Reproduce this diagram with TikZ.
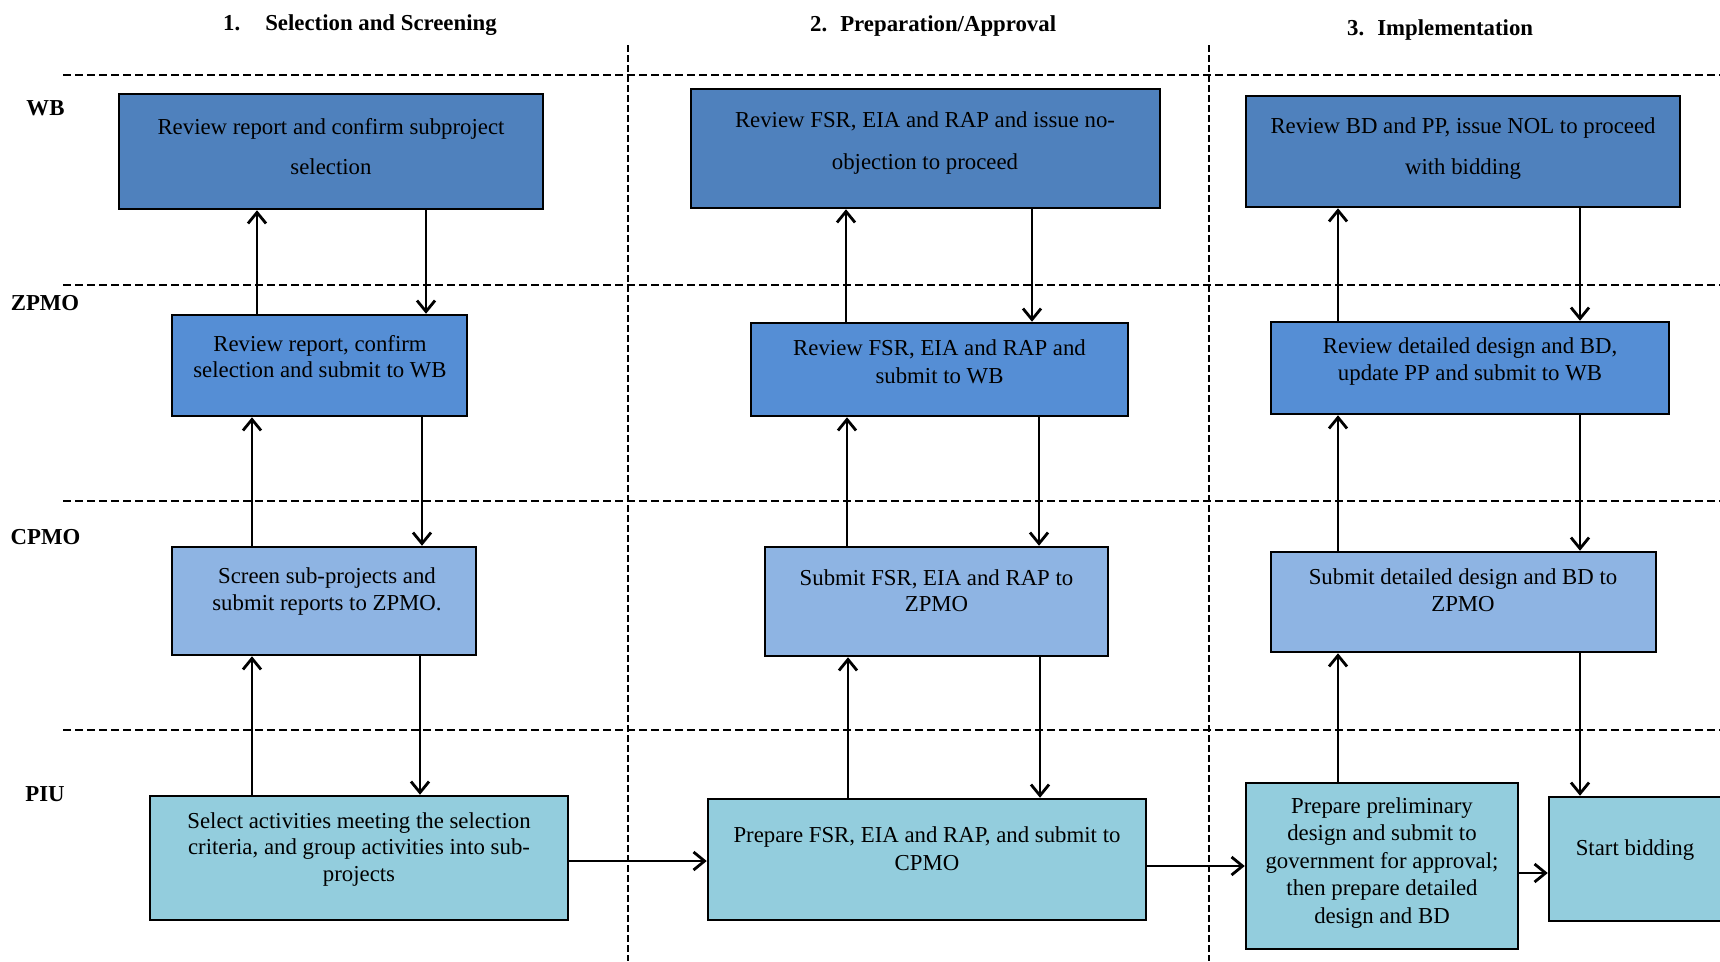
\documentclass[tikz,border=0pt]{standalone}
\usepackage{fontspec}
\setmainfont{Liberation Serif}
\usetikzlibrary{arrows.meta,fit}
\definecolor{wbc}{HTML}{4F81BD}
\definecolor{zpc}{HTML}{558ED5}
\definecolor{cpc}{HTML}{8EB4E3}
\definecolor{piuc}{HTML}{93CDDD}
\begin{document}
\begin{tikzpicture}[x=1pt,y=-1pt,
  box/.style={draw=black, line width=2.5pt, inner sep=0pt},
  wbbox/.style={box, fill=wbc},
  zpbox/.style={box, fill=zpc},
  cpbox/.style={box, fill=cpc},
  piubox/.style={box, fill=piuc},
  txt/.style={align=center, font=\fontsize{22.8}{#1}\selectfont, inner sep=0pt},
  txt/.default=27,
  lbl/.style={font=\bfseries\fontsize{22.8}{27}\selectfont, inner sep=0pt},
  arr/.style={line width=2.8pt, -{Straight Barb[length=11pt,width=18pt]}},
  lane/.style={line width=2pt, dash pattern=on 8pt off 4pt},
  vlane/.style={line width=2pt, dash pattern=on 7pt off 3pt},
]
\useasboundingbox (0,0) rectangle (1720,961);

% lanes
\coordinate (hl1a) at (63,75);   \coordinate (hl1b) at (1720,75);
\coordinate (hl2a) at (63,285);  \coordinate (hl2b) at (1720,285);
\coordinate (hl3a) at (63,501);  \coordinate (hl3b) at (1720,501);
\coordinate (hl4a) at (63,730);  \coordinate (hl4b) at (1720,730);
\coordinate (vl1a) at (628,45);  \coordinate (vl1b) at (628,961);
\coordinate (vl2a) at (1209,45); \coordinate (vl2b) at (1209,961);
\draw[lane] (hl1a) -- (hl1b);
\draw[lane] (hl2a) -- (hl2b);
\draw[lane] (hl3a) -- (hl3b);
\draw[lane] (hl4a) -- (hl4b);
\draw[vlane] (vl1a) -- (vl1b);
\draw[vlane] (vl2a) -- (vl2b);

% titles
\node[lbl, anchor=west] (t1) at (223,25) {1.\hspace{25pt}Selection and Screening};
\node[lbl, anchor=west] (t2) at (810,26) {2.\hspace{13pt}Preparation/Approval};
\node[lbl, anchor=west] (t3) at (1347,30) {3.\hspace{13pt}Implementation};

% row labels
\node[lbl] (lwb) at (45.5,108) {WB};
\node[lbl] (lzp) at (45,303) {ZPMO};
\node[lbl] (lcp) at (45.5,537) {CPMO};
\node[lbl] (lpiu) at (45,794) {PIU};

% boxes
\node[wbbox, fit={(119,94) (543,209)}] (wb1) {};
\node[wbbox, fit={(691,89) (1160,208)}] (wb2) {};
\node[wbbox, fit={(1246,96) (1680,207)}] (wb3) {};
\node[zpbox, fit={(172,315) (467,416)}] (zp1) {};
\node[zpbox, fit={(751,323) (1128,416)}] (zp2) {};
\node[zpbox, fit={(1271,322) (1669,414)}] (zp3) {};
\node[cpbox, fit={(172,547) (476,655)}] (cp1) {};
\node[cpbox, fit={(765,547) (1108,656)}] (cp2) {};
\node[cpbox, fit={(1271,552) (1656,652)}] (cp3) {};
\node[piubox, fit={(150,796) (568,920)}] (piu1) {};
\node[piubox, fit={(708,799) (1146,920)}] (piu2) {};
\node[piubox, fit={(1246,783) (1518,949)}] (piu3) {};
\node[piubox, fit={(1549,797) (1721,921)}] (start) {};

% texts
\node[txt=40] (wb1t) at (331,147) {Review report and confirm subproject\\selection};
\node[txt=42] (wb2t) at (925,143) {Review FSR, EIA and RAP and issue no-\\objection to proceed};
\node[txt=41] (wb3t) at (1463,148.5) {Review BD and PP, issue NOL to proceed\\with bidding};
\node[txt=26] (zp1t) at (320,357) {Review report, confirm\\selection and submit to WB};
\node[txt=28] (zp2t) at (939.5,362) {Review FSR, EIA and RAP and\\submit to WB};
\node[txt=27] (zp3t) at (1470,361.5) {Review detailed design and BD,\\update PP and submit to WB};
\node[txt=27] (cp1t) at (327,591.5) {Screen sub-projects and\\submit reports to ZPMO.};
\node[txt=26] (cp2t) at (936.5,591) {Submit FSR, EIA and RAP to\\ZPMO};
\node[txt=27] (cp3t) at (1463,590) {Submit detailed design and BD to\\ZPMO};
\node[txt=26.5] (piu1t) at (359,849.5) {Select activities meeting the selection\\criteria, and group activities into sub-\\projects};
\node[txt=28] (piu2t) at (927,849) {Prepare FSR, EIA and RAP, and submit to\\CPMO};
\node[txt=27.5] (piu3t) at (1382,863) {Prepare preliminary\\design and submit to\\government for approval;\\then prepare detailed\\design and BD};
\node[txt] (startt) at (1635,850) {Start bidding};

% connector columns
\coordinate (a1) at (257,0); \coordinate (b1) at (426,0);
\coordinate (a2) at (252,0); \coordinate (b2) at (422,0);
\coordinate (a3) at (252,0); \coordinate (b3) at (420,0);
\coordinate (a4) at (846,0); \coordinate (b4) at (1032,0);
\coordinate (a5) at (847,0); \coordinate (b5) at (1039,0);
\coordinate (a6) at (848,0); \coordinate (b6) at (1040,0);
\coordinate (a7) at (1338,0); \coordinate (b7) at (1580,0);
\coordinate (h1) at (0,861); \coordinate (h2) at (0,866); \coordinate (h3) at (0,873);

% column 1
\draw[arr] (zp1.north -| a1) -- (wb1.south -| a1);
\draw[arr] (wb1.south -| b1) -- (zp1.north -| b1);
\draw[arr] (cp1.north -| a2) -- (zp1.south -| a2);
\draw[arr] (zp1.south -| b2) -- (cp1.north -| b2);
\draw[arr] (piu1.north -| a3) -- (cp1.south -| a3);
\draw[arr] (cp1.south -| b3) -- (piu1.north -| b3);
% column 2
\draw[arr] (zp2.north -| a4) -- (wb2.south -| a4);
\draw[arr] (wb2.south -| b4) -- (zp2.north -| b4);
\draw[arr] (cp2.north -| a5) -- (zp2.south -| a5);
\draw[arr] (zp2.south -| b5) -- (cp2.north -| b5);
\draw[arr] (piu2.north -| a6) -- (cp2.south -| a6);
\draw[arr] (cp2.south -| b6) -- (piu2.north -| b6);
% column 3
\draw[arr] (zp3.north -| a7) -- (wb3.south -| a7);
\draw[arr] (wb3.south -| b7) -- (zp3.north -| b7);
\draw[arr] (cp3.north -| a7) -- (zp3.south -| a7);
\draw[arr] (zp3.south -| b7) -- (cp3.north -| b7);
\draw[arr] (piu3.north -| a7) -- (cp3.south -| a7);
\draw[arr] (cp3.south -| b7) -- (start.north -| b7);
% horizontal flow
\draw[arr] (piu1.east |- h1) -- (piu2.west |- h1);
\draw[arr] (piu2.east |- h2) -- (piu3.west |- h2);
\draw[arr] (piu3.east |- h3) -- (start.west |- h3);
\end{tikzpicture}
\end{document}
